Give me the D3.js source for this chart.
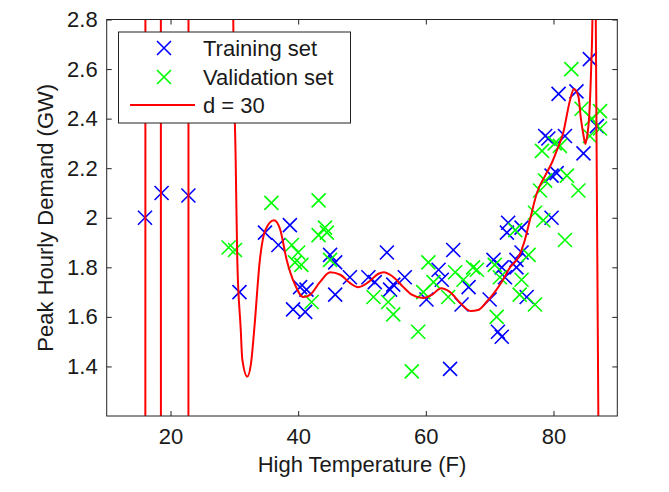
<!DOCTYPE html>
<html>
<head>
<meta charset="utf-8">
<script src="https://cdn.jsdelivr.net/npm/d3@7"></script>
<style>
  html, body { margin: 0; padding: 0; background: #fff; }
  svg { display: block; }
  text { font-family: "Liberation Sans", Arial, Helvetica, sans-serif; fill: #1a1a1a; }
</style>
</head>
<body>
<svg id="chart" width="669" height="492"></svg>
<script>
// ---- data ----
const trainX = [16.0, 18.6, 22.8, 30.8, 34.8, 36.9, 38.7, 39.2, 40.3, 41.1, 41.3, 45.0, 45.8, 45.8, 48.1, 51.0, 52.0, 53.9, 54.4, 54.9, 56.7, 60.1, 62.0, 62.5, 63.8, 64.3, 65.6, 66.7, 70.0, 70.6, 71.3, 71.9, 71.9, 72.4, 72.7, 72.9, 74.2, 74.2, 75.0, 75.0, 75.8, 78.7, 79.2, 79.7, 79.7, 80.5, 80.8, 81.8, 83.6, 84.7, 85.7, 86.8];
const trainY = [2.00, 2.10, 2.09, 1.70, 1.94, 1.89, 1.97, 1.63, 1.72, 1.62, 1.71, 1.85, 1.82, 1.69, 1.76, 1.76, 1.74, 1.86, 1.71, 1.73, 1.76, 1.67, 1.79, 1.75, 1.39, 1.87, 1.65, 1.72, 1.67, 1.83, 1.54, 1.52, 1.80, 1.76, 1.94, 1.98, 1.80, 1.83, 1.86, 1.96, 1.68, 2.33, 2.32, 2.00, 2.17, 2.18, 2.50, 2.33, 2.51, 2.26, 2.64, 2.37];

const valX = [29.1, 30.1, 35.8, 39.0, 39.5, 40.0, 40.5, 42.1, 43.2, 43.2, 44.2, 44.5, 45.0, 51.8, 54.1, 54.9, 57.8, 58.8, 59.6, 60.4, 61.2, 63.5, 64.6, 65.9, 67.4, 68.0, 70.8, 71.1, 71.6, 74.0, 74.7, 75.0, 76.1, 77.1, 77.1, 77.9, 78.2, 78.4, 78.7, 80.2, 81.0, 81.8, 82.1, 82.8, 83.9, 84.4, 85.7, 86.0, 87.3, 87.3];
const valY = [1.88, 1.87, 2.06, 1.89, 1.82, 1.86, 1.81, 1.66, 2.07, 1.93, 1.96, 1.94, 1.83, 1.68, 1.66, 1.61, 1.38, 1.54, 1.70, 1.82, 1.74, 1.68, 1.78, 1.75, 1.80, 1.79, 1.81, 1.60, 1.76, 1.95, 1.69, 1.75, 1.85, 1.65, 2.02, 2.11, 2.27, 1.99, 2.15, 2.30, 2.29, 1.91, 2.17, 2.60, 2.11, 2.44, 2.33, 2.40, 2.43, 2.36];

// degree-30 polynomial fit (values far outside the axes are off-chart)
const fitX = [10.0, 15.95, 16.15, 18.4, 18.6, 22.7, 22.9, 29.7, 29.83, 30.21, 30.46, 31.0, 31.24, 32.03, 32.6, 33.12, 34.0, 34.85, 36.2, 37.15, 38.2, 39.5, 40.8, 41.9, 43.4, 45.0, 46.6, 48.1, 49.4, 51.0, 52.5, 53.4, 54.7, 56.3, 57.8, 59.6, 61.0, 62.4, 63.8, 65.4, 67.0, 68.2, 69.5, 70.8, 72.1, 73.2, 74.5, 75.4, 76.3, 77.4, 78.7, 79.8, 80.5, 81.5, 82.6, 83.2, 83.9, 84.3, 84.7, 85.0, 85.3, 85.6, 85.9, 86.1, 86.3, 86.5, 86.6, 86.63, 87.03, 87.2, 90.0];
const fitY = [-20, -20, 20, 20, -20, -20, 20, 20, 2.80, 2.23, 1.83, 1.55, 1.43, 1.359, 1.41, 1.55, 1.83, 1.95, 1.99, 1.955, 1.83, 1.73, 1.68, 1.69, 1.74, 1.78, 1.77, 1.737, 1.72, 1.74, 1.773, 1.78, 1.765, 1.725, 1.69, 1.676, 1.69, 1.716, 1.70, 1.656, 1.624, 1.628, 1.66, 1.70, 1.75, 1.80, 1.84, 1.90, 1.99, 2.10, 2.17, 2.225, 2.27, 2.34, 2.475, 2.52, 2.49, 2.40, 2.333, 2.298, 2.333, 2.41, 2.60, 2.80, 4.5, 4.5, 3.0, 2.80, 1.20, 0, -20];

const xTicks = [20, 40, 60, 80];
const yTicks = [1.4, 1.6, 1.8, 2.0, 2.2, 2.4, 2.6, 2.8];
const yTickLabels = ["1.4", "1.6", "1.8", "2", "2.2", "2.4", "2.6", "2.8"];
const legendLabels = ["Training set", "Validation set", "d = 30"];

// ---- layout ----
const L = 106.7, R = 617.3, T = 19.5, B = 416;
const svg = d3.select("#chart");
const x = d3.scaleLinear().domain([10, 90]).range([L, R]);
const y = d3.scaleLinear().domain([1.2, 2.8]).range([B, T]);

svg.append("defs").append("clipPath").attr("id", "clip")
  .append("rect").attr("x", L).attr("y", T).attr("width", R - L).attr("height", B - T);

const fs = 22;
// axes (inward ticks, mirrored)
const axB = svg.append("g").attr("transform", `translate(0,${B})`)
  .call(d3.axisBottom(x).tickValues(xTicks).tickSize(-5).tickPadding(12).tickFormat(d3.format("d")));
const axT = svg.append("g").attr("transform", `translate(0,${T})`)
  .call(d3.axisTop(x).tickValues(xTicks).tickSize(-5).tickFormat(""));
const axL = svg.append("g").attr("transform", `translate(${L},0)`)
  .call(d3.axisLeft(y).tickValues(yTicks).tickSize(-5).tickPadding(9).tickFormat((d, i) => yTickLabels[i]));
const axR = svg.append("g").attr("transform", `translate(${R},0)`)
  .call(d3.axisRight(y).tickValues(yTicks).tickSize(-5).tickFormat(""));
[axB, axT, axL, axR].forEach(g => {
  g.select(".domain").remove();
  g.selectAll(".tick line").attr("stroke", "#222").attr("stroke-width", 1);
  g.selectAll(".tick text").attr("font-size", fs).attr("fill", "#1a1a1a")
    .style("font-family", '"Liberation Sans", Arial, sans-serif');
});

// data marks
const xMark = (g, cx, cy, color) => {
  const s = 7;
  g.append("path")
    .attr("d", `M${cx - s},${cy - s}L${cx + s},${cy + s}M${cx - s},${cy + s}L${cx + s},${cy - s}`)
    .attr("stroke", color).attr("stroke-width", 1.6).attr("fill", "none");
};
const gTrain = svg.append("g");
trainX.forEach((v, i) => xMark(gTrain, x(v), y(trainY[i]), "#0000ff"));
const gVal = svg.append("g");
valX.forEach((v, i) => xMark(gVal, x(v), y(valY[i]), "#00ff00"));

const line = d3.line().x(d => x(d[0])).y(d => y(d[1])).curve(d3.curveMonotoneX);
svg.append("path")
  .datum(fitX.map((v, i) => [v, fitY[i]]))
  .attr("clip-path", "url(#clip)")
  .attr("d", line)
  .attr("fill", "none").attr("stroke", "#ff0000").attr("stroke-width", 2);

// frame
svg.append("rect").attr("x", L).attr("y", T).attr("width", R - L).attr("height", B - T)
  .attr("fill", "none").attr("stroke", "#222").attr("stroke-width", 1);

// axis labels
svg.append("text").attr("x", (L + R) / 2).attr("y", 472).attr("text-anchor", "middle")
  .attr("font-size", fs).text("High Temperature (F)");
svg.append("text").attr("transform", `translate(53,${(T + B) / 2}) rotate(-90)`)
  .attr("text-anchor", "middle").attr("font-size", fs).text("Peak Hourly Demand (GW)");

// legend
const lg = svg.append("g");
lg.append("rect").attr("x", 118.5).attr("y", 32).attr("width", 232).attr("height", 91)
  .attr("fill", "#fff").attr("stroke", "#222").attr("stroke-width", 1);
const rowsY = [48, 77, 105];
xMark(lg, 164, rowsY[0], "#0000ff");
xMark(lg, 164, rowsY[1], "#00ff00");
lg.append("line").attr("x1", 130).attr("x2", 195).attr("y1", rowsY[2]).attr("y2", rowsY[2])
  .attr("stroke", "#ff0000").attr("stroke-width", 2);
legendLabels.forEach((t, i) => {
  lg.append("text").attr("x", 203).attr("y", rowsY[i]).attr("dy", "0.36em")
    .attr("font-size", fs).text(t);
});
</script>
</body>
</html>
